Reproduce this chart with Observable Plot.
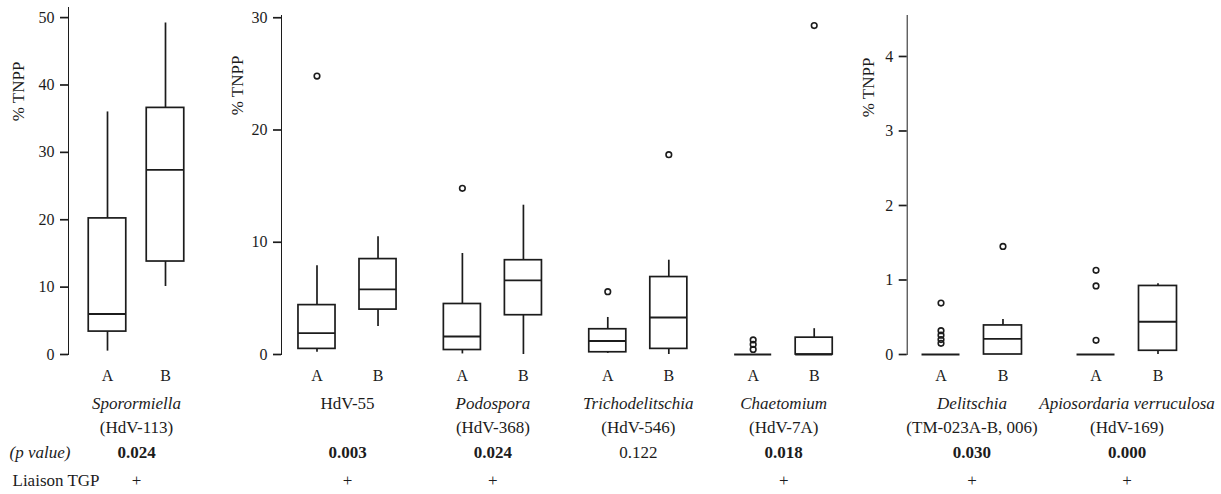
<!DOCTYPE html>
<html>
<head>
<meta charset="utf-8">
<script src="https://cdn.jsdelivr.net/npm/d3@7"></script>
<script src="https://cdn.jsdelivr.net/npm/@observablehq/plot@0.6"></script>
<style>
  body { margin: 0; background: #fff; }
  #chart { position: relative; width: 1221px; height: 494px; background: #fff; }
  #chart svg { position: absolute; top: 0; overflow: visible; font-family: "Liberation Serif", "Times New Roman", serif; }
  #chart svg g[aria-label^="y-axis"] path,
  #chart svg g[aria-label^="y-axis"] line { stroke-width: 1.7px; }
</style>
</head>
<body>
<div id="chart"></div>
<script>
// ---------- data ----------
const taxa = ["Sporormiella", "HdV-55", "Podospora", "Trichodelitschia", "Chaetomium", "Delitschia", "Apiosordaria verruculosa"];
const codes = ["(HdV-113)", "", "(HdV-368)", "(HdV-546)", "(HdV-7A)", "(TM-023A-B, 006)", "(HdV-169)"];
const italicName = [true, false, true, true, true, true, true];
const pValues = ["0.024", "0.003", "0.024", "0.122", "0.018", "0.030", "0.000"];
const significant = [true, true, true, false, true, true, true];
const liaisonTGP = ["+", "+", "+", "", "+", "+", "+"];
const panelOf = [0, 1, 1, 1, 1, 2, 2];
const groups = ["A", "B"];
// statistics per taxon, [A, B]
const whiskerLow  = [[0.5, 10.1], [0.2, 2.5], [0.05, 0], [0.1, 0], [0, 0], [0, 0], [0, 0]];
const q1          = [[3.4, 13.8], [0.5, 4.0], [0.4, 3.5], [0.2, 0.5], [0, 0], [0, 0], [0, 0.05]];
const median      = [[6.0, 27.4], [1.9, 5.8], [1.6, 6.6], [1.2, 3.3], [0, 0], [0, 0.21], [0, 0.44]];
const q3          = [[20.2, 36.6], [4.4, 8.5], [4.5, 8.4], [2.25, 6.9], [0, 1.5], [0, 0.39], [0, 0.92]];
const whiskerHigh = [[36.0, 49.2], [7.9, 10.5], [9.0, 13.3], [3.3, 8.4], [0, 2.3], [0, 0.47], [0, 0.95]];
const outliersA = [[], [24.8], [14.8], [5.6], [1.3, 0.9, 0.45], [0.69, 0.32, 0.26, 0.2, 0.15], [1.13, 0.92, 0.19]];
const outliersB = [[], [], [], [17.8], [29.3], [1.45], []];
const yTicks = [[0, 10, 20, 30, 40, 50], [0, 10, 20, 30], [0, 1, 2, 3, 4]];
const yLabel = "% TNPP";
const rowLabels = ["(p value)", "Liaison TGP"];

// ---------- derived tables ----------
const rows = taxa.map((t, i) => ({taxon: t, panel: panelOf[i], code: codes[i], italic: italicName[i], p: pValues[i], sig: significant[i], link: liaisonTGP[i]}));
const boxes = [];
taxa.forEach((t, i) => groups.forEach((g, j) => boxes.push({
  taxon: t, panel: panelOf[i], group: g,
  low: whiskerLow[i][j], q1: q1[i][j], med: median[i][j], q3: q3[i][j], high: whiskerHigh[i][j]
})));
const outliers = [];
taxa.forEach((t, i) => {
  outliersA[i].forEach(v => outliers.push({taxon: t, panel: panelOf[i], group: "A", value: v}));
  outliersB[i].forEach(v => outliers.push({taxon: t, panel: panelOf[i], group: "B", value: v}));
});

// ---------- layout (styles) ----------
const layouts = [
  {left: 0,   width: 210, marginLeft: 68,   marginRight: 6,    marginTop: 7,  yMax: 51.5, fxPad: 0,     xPadInner: 0.353, xPadOuter: 0.349, labelDx: -50, labelDy: 84},
  {left: 210, width: 646, marginLeft: 71,   marginRight: 6.8,  marginTop: 15, yMax: 30.2, fxPad: 0.092, xPadInner: 0.393, xPadOuter: 0.278, labelDx: -44, labelDy: 70},
  {left: 856, width: 365, marginLeft: 50.7, marginRight: 29.7, marginTop: 15, yMax: 4.55, fxPad: 0.164, xPadInner: 0.387, xPadOuter: 0.239, labelDx: -39, labelDy: 72}
];
const H = 494, zeroY = 354;
const ink = "#1c1c1c";
const serif = "Liberation Serif";

const chart = document.getElementById("chart");
layouts.forEach((L, p) => {
  const pTaxa = taxa.filter((t, i) => panelOf[i] === p);
  const pRows = rows.filter(d => d.panel === p);
  const pBoxes = boxes.filter(d => d.panel === p);
  const pOut = outliers.filter(d => d.panel === p);
  const txt = {fontFamily: serif, fontSize: 17, fill: ink, lineAnchor: "middle", textAnchor: "middle"};
  const marks = [
    Plot.ruleX(pBoxes, {fx: "taxon", x: "group", y1: "low", y2: "high", stroke: ink, strokeWidth: 1.7}),
    Plot.barY(pBoxes, {fx: "taxon", x: "group", y1: "q1", y2: "q3", fill: "white", stroke: ink, strokeWidth: 1.7}),
    Plot.tickY(pBoxes, {fx: "taxon", x: "group", y: "med", stroke: ink, strokeWidth: 1.9}),
    Plot.dot(pOut, {fx: "taxon", x: "group", y: "value", r: 2.8, stroke: ink, strokeWidth: 1.6, fill: "none"}),
    Plot.text([{taxon: pTaxa[0]}], {...txt, fx: "taxon", text: () => yLabel, frameAnchor: "top-left", dx: L.labelDx, dy: L.labelDy, rotate: -90}),
    Plot.text(pRows.filter(d => d.italic), {...txt, fx: "taxon", text: "taxon", frameAnchor: "bottom", dy: 49, fontStyle: "italic"}),
    Plot.text(pRows.filter(d => !d.italic), {...txt, fx: "taxon", text: "taxon", frameAnchor: "bottom", dy: 49}),
    Plot.text(pRows.filter(d => d.code), {...txt, fx: "taxon", text: "code", frameAnchor: "bottom", dy: 73}),
    Plot.text(pRows.filter(d => d.sig), {...txt, fx: "taxon", text: "p", frameAnchor: "bottom", dy: 98, fontWeight: "bold"}),
    Plot.text(pRows.filter(d => !d.sig), {...txt, fx: "taxon", text: "p", frameAnchor: "bottom", dy: 98}),
    Plot.text(pRows.filter(d => d.link), {...txt, fx: "taxon", text: "link", frameAnchor: "bottom", dy: 126})
  ];
  if (p === 0) {
    marks.push(
      Plot.text([{taxon: pTaxa[0], label: rowLabels[0]}], {...txt, fx: "taxon", text: "label", frameAnchor: "bottom-left", dx: -59, dy: 98, textAnchor: "start", fontStyle: "italic"}),
      Plot.text([{taxon: pTaxa[0], label: rowLabels[1]}], {...txt, fx: "taxon", text: "label", frameAnchor: "bottom-left", dx: -56, dy: 126, textAnchor: "start"})
    );
  }
  const svg = Plot.plot({
    width: L.width,
    height: H,
    marginLeft: L.marginLeft,
    marginRight: L.marginRight,
    marginTop: L.marginTop,
    marginBottom: H - zeroY,
    style: {fontFamily: serif, fontSize: "16px", background: "transparent", color: ink, overflow: "visible"},
    fx: {domain: pTaxa, paddingInner: L.fxPad, paddingOuter: 0, round: false, axis: null, label: null},
    x: {domain: groups, paddingInner: L.xPadInner, paddingOuter: L.xPadOuter, round: false, tickSize: 0, tickPadding: 15, label: null},
    y: {domain: [0, L.yMax], ticks: yTicks[p], tickFormat: d => String(d), tickSize: 8, tickPadding: 6, line: true, label: null},
    marks
  });
  svg.style.left = L.left + "px";
  chart.appendChild(svg);
});
</script>
</body>
</html>
